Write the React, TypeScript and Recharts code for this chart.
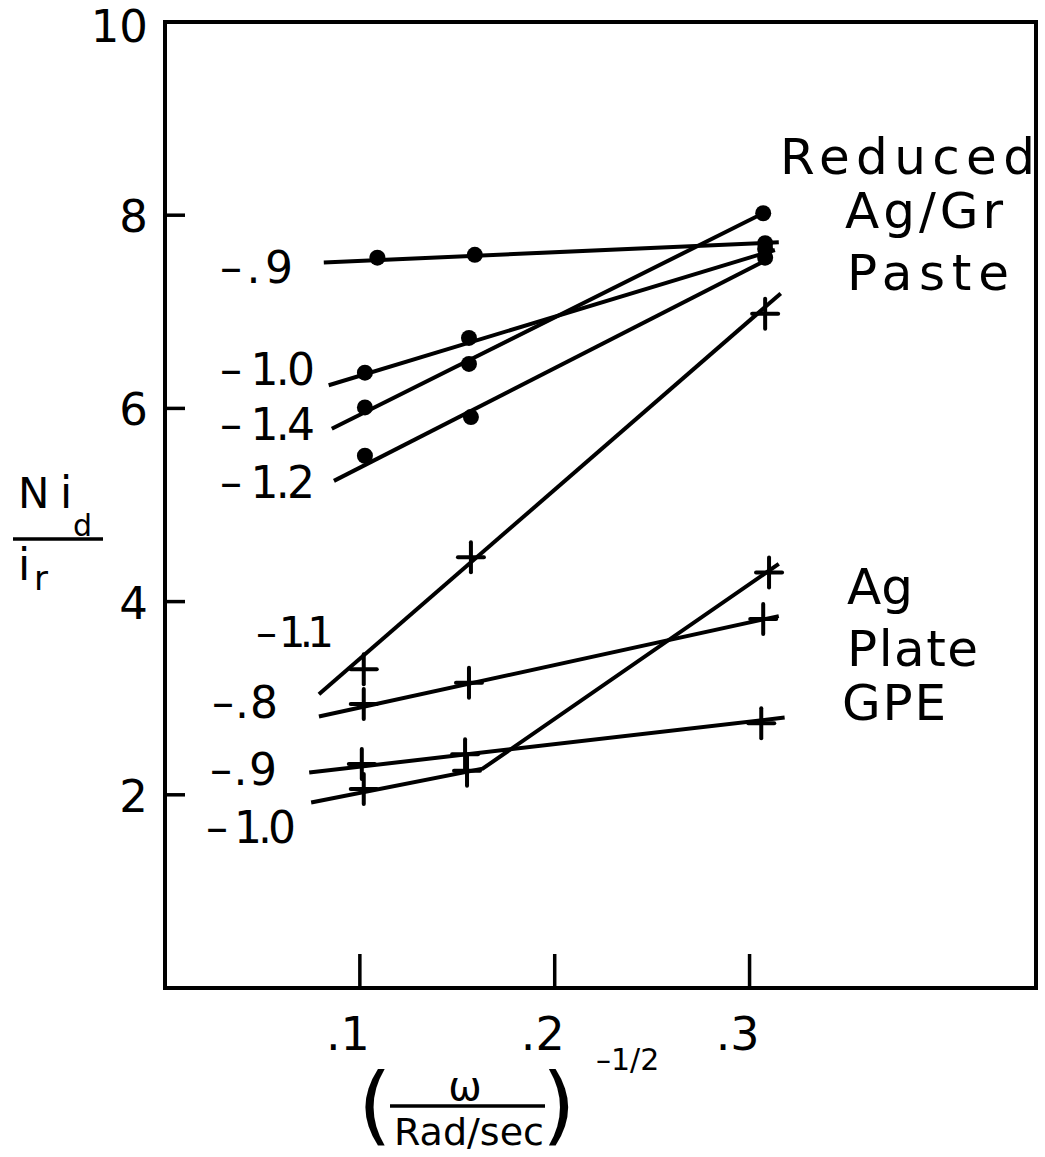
import React from 'react';
import { ScatterChart, Scatter, XAxis, YAxis, ReferenceArea } from 'recharts';

const W = 1045;
const H = 1157;
const FONT = '"DejaVu Sans", sans-serif';
const INK = '#000';

// axis ticks
const xTicks = [0.1, 0.2, 0.3];
const xTickLabels = ['.1', '.2', '.3'];
const yTicks = [2, 4, 6, 8, 10];
const yTickLabels = ['2', '4', '6', '8', '10'];
const xDomain = [0, 0.447];
const yDomain = [0, 10];

// Reduced Ag/Gr Paste — measured points (filled dots)
const paste09 = [[0.109, 7.56], [0.159, 7.59], [0.308, 7.71]];
const paste10 = [[0.1026, 6.37], [0.156, 6.73], [0.308, 7.65]];
const paste14 = [[0.1026, 6.01], [0.156, 6.46], [0.307, 8.02]];
const paste12 = [[0.1026, 5.51], [0.157, 5.91], [0.308, 7.56]];

// Reduced Ag/Gr Paste — drawn lines
const pasteFit09 = [[0.0815, 7.51], [0.315, 7.72]];
const pasteFit10 = [[0.084, 6.24], [0.313, 7.64]];
const pasteFit14 = [[0.0856, 5.79], [0.307, 8.02]];
const pasteFit12 = [[0.0867, 5.25], [0.311, 7.56]];

// Ag Plate GPE — measured points (crosses)
const plate11 = [[0.102, 3.3], [0.157, 4.46], [0.308, 6.98]];
const plate08 = [[0.102, 2.94], [0.156, 3.16], [0.307, 3.82]];
const plate09 = [[0.101, 2.32], [0.154, 2.42], [0.306, 2.74]];
const plate10 = [[0.102, 2.06], [0.155, 2.25], [0.31, 4.3]];

// Ag Plate GPE — drawn lines
const plateFit11 = [[0.079, 3.04], [0.316, 7.19]];
const plateFit08 = [[0.079, 2.81], [0.315, 3.85]];
const plateFit09 = [[0.074, 2.23], [0.318, 2.8]];
const plateFit10 = [[0.075, 1.92], [0.163, 2.27], [0.315, 4.39]];

const pasteSeries = [paste09, paste10, paste14, paste12];
const pasteFits = [pasteFit09, pasteFit10, pasteFit14, pasteFit12];
const plateSeries = [plate11, plate08, plate09, plate10];
const plateFits = [plateFit11, plateFit08, plateFit09, plateFit10];

const toPts = (arr: number[][]) => arr.map(([x, y]) => ({ x, y }));

const Dot = (p: any) => <circle cx={p.cx} cy={p.cy} r={8} fill={INK} />;
const Cross = (p: any) => (
  <g stroke={INK} strokeWidth={4} strokeLinecap="round">
    <line x1={p.cx - 13} y1={p.cy} x2={p.cx + 13} y2={p.cy} />
    <line x1={p.cx} y1={p.cy - 15} x2={p.cx} y2={p.cy + 15} />
  </g>
);
const NoShape = () => <g />;

const renderYTick = (p: any) => {
  const v = p.payload && p.payload.value;
  const i = yTicks.indexOf(v);
  const dy = v === 10 ? 20 : 17;
  return (
    <g key={'yt' + v}>
      <line x1={p.x} y1={p.y} x2={p.x + 20} y2={p.y} stroke={INK} strokeWidth={3.5} />
      <text x={p.x - 17} y={p.y + dy} textAnchor="end" fontFamily={FONT} fontSize={45} fill={INK}>
        {yTickLabels[i]}
      </text>
    </g>
  );
};

const renderXTick = (p: any) => {
  const v = p.payload && p.payload.value;
  const i = xTicks.indexOf(v);
  return (
    <g key={'xt' + v}>
      <line x1={p.x} y1={p.y} x2={p.x} y2={p.y - 34} stroke={INK} strokeWidth={3.5} />
      <text x={p.x + 10} y={p.y + 62} textAnchor="end" fontFamily={FONT} fontSize={46} fill={INK}>
        {xTickLabels[i]}
      </text>
    </g>
  );
};

const lbl = (x: number, y: number, s: string, len?: number, size = 44) => (
  <text
    x={x}
    y={y}
    fontFamily={FONT}
    fontSize={size}
    fill={INK}
    textLength={len}
    lengthAdjust="spacing"
  >
    {s}
  </text>
);

export default function App() {
  return (
    <div style={{ position: 'absolute', left: 0, top: 0, width: W, height: H, background: '#fff' }}>
      <ScatterChart
        width={W}
        height={H}
        margin={{ top: 22, right: 9, bottom: 109, left: 105 }}
      >
        <XAxis
          type="number"
          dataKey="x"
          domain={xDomain}
          ticks={xTicks}
          allowDataOverflow
          height={60}
          axisLine={false}
          tickLine={false}
          tickSize={0}
          tickMargin={0}
          tick={renderXTick}
          interval={0}
        />
        <YAxis
          type="number"
          dataKey="y"
          domain={yDomain}
          ticks={yTicks}
          allowDataOverflow
          width={60}
          axisLine={false}
          tickLine={false}
          tickSize={0}
          tickMargin={0}
          tick={renderYTick}
          interval={0}
        />
        <ReferenceArea
          x1={xDomain[0]}
          x2={xDomain[1]}
          y1={yDomain[0]}
          y2={yDomain[1]}
          fill="none"
          fillOpacity={0}
          stroke={INK}
          strokeWidth={4}
          ifOverflow="visible"
        />
        {pasteFits.map((f, i) => (
          <Scatter
            key={'pf' + i}
            data={toPts(f)}
            line={{ stroke: INK, strokeWidth: 4 }}
            shape={NoShape}
            isAnimationActive={false}
          />
        ))}
        {plateFits.map((f, i) => (
          <Scatter
            key={'gf' + i}
            data={toPts(f)}
            line={{ stroke: INK, strokeWidth: 4 }}
            shape={NoShape}
            isAnimationActive={false}
          />
        ))}
        {pasteSeries.map((s, i) => (
          <Scatter key={'ps' + i} data={toPts(s)} shape={Dot} isAnimationActive={false} />
        ))}
        {plateSeries.map((s, i) => (
          <Scatter key={'gs' + i} data={toPts(s)} shape={Cross} isAnimationActive={false} />
        ))}
      </ScatterChart>
      <svg
        width={W}
        height={H}
        style={{ position: 'absolute', left: 0, top: 0, pointerEvents: 'none' }}
      >
        {/* group titles */}
        {lbl(780, 174, 'Reduced', 255, 50)}
        {lbl(845, 228, 'Ag/Gr', 158, 50)}
        {lbl(847, 290, 'Paste', 162, 50)}
        {lbl(847, 604, 'Ag', 66, 50)}
        {lbl(847, 666, 'Plate', 131, 50)}
        {lbl(842, 720, 'GPE', 104, 50)}

        {/* line labels: paste */}
        {lbl(220, 283, '–.9', 73)}
        {lbl(220, 385, '– 1.0', 95)}
        {lbl(220, 440, '– 1.4', 95)}
        {lbl(220, 498, '– 1.2', 95)}
        {/* line labels: plate */}
        {lbl(256, 647, '– 1.1', 78, 42)}
        {lbl(212, 718, '–.8', 66)}
        {lbl(210, 785, '–.9', 67)}
        {lbl(206, 843, '– 1.0', 90)}

        {/* y-axis title */}
        <text x={18} y={508} fontFamily={FONT} fontSize={42} fill={INK}>N</text>
        <text x={60} y={508} fontFamily={FONT} fontSize={44} fill={INK}>i</text>
        <text x={73} y={536} fontFamily={FONT} fontSize={30} fill={INK}>d</text>
        <line x1={13} y1={539} x2={103} y2={539} stroke={INK} strokeWidth={3.5} />
        <text x={18} y={580} fontFamily={FONT} fontSize={44} fill={INK}>i</text>
        <text x={34} y={590} fontFamily={FONT} fontSize={34} fill={INK}>r</text>

        {/* x-axis title */}
        <text x={358} y={1134} fontFamily={FONT} fontSize={86} fill={INK}>(</text>
        <text x={465} y={1100} textAnchor="middle" fontFamily={FONT} fontSize={40} fill={INK}>ω</text>
        <line x1={390} y1={1106} x2={545} y2={1106} stroke={INK} strokeWidth={3.5} />
        <text x={394} y={1145} fontFamily={FONT} fontSize={38} fill={INK} textLength={150} lengthAdjust="spacingAndGlyphs">Rad/sec</text>
        <text x={542} y={1134} fontFamily={FONT} fontSize={86} fill={INK}>)</text>
        <text x={596} y={1070} fontFamily={FONT} fontSize={30} fill={INK}>–1/2</text>
      </svg>
    </div>
  );
}
